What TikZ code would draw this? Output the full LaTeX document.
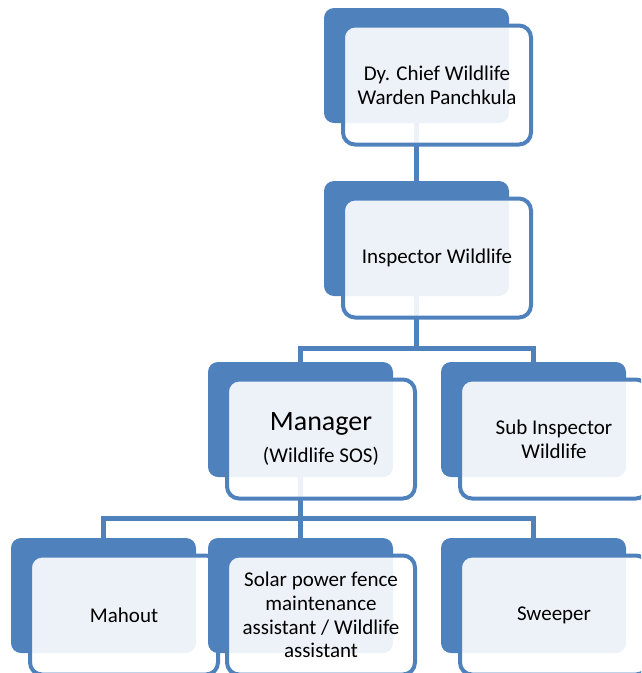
\documentclass[tikz,border=0pt]{standalone}
\usepackage{fontspec}
\setmainfont{Carlito}
\pgfdeclarelayer{background}
\pgfsetlayers{background,main}
\definecolor{acc}{HTML}{4F81BD}
\begin{document}
\begin{tikzpicture}[x=1pt,y=-1pt,
 back/.style={draw=none, fill=acc, rounded corners=10pt, minimum width=185pt, minimum height=115pt, anchor=north west, inner sep=0pt, outer sep=0pt},
 front/.style={draw=acc, line width=4pt, fill=white, fill opacity=0.9, text opacity=1, rounded corners=12pt, minimum width=188pt, minimum height=119pt, anchor=north west, inner sep=0pt, outer sep=0pt, align=center, font=\fontsize{21}{23.6}\selectfont},
 conn/.style={draw=acc, line width=5pt}]
\useasboundingbox (0,0) rectangle (641,673);
\clip (0,0) rectangle (641,673);
\node[back] (b1) at (324,8) {};
\node[front] (f1) at (343,25.5) {Dy. Chief Wildlife\\Warden Panchkula};
\node[back] (b2) at (324,181) {};
\node[front] (f2) at (343,198.5) {Inspector Wildlife};
\node[back] (b3) at (208,362) {};
\node[front] (f3) at (227,379.5) {{\fontsize{28}{32}\selectfont Manager}\\[9pt](Wildlife SOS)};
\node[back] (b4) at (441,362) {};
\node[front] (f4) at (460,379.5) {Sub Inspector\\Wildlife};
\node[back] (b5) at (11,538) {};
\node[front] (f5) at (30,555.5) {Mahout};
\node[back] (b6) at (208,538) {};
\node[front] (f6) at (227,555.5) {Solar power fence\\maintenance\\assistant / Wildlife\\assistant};
\node[back] (b7) at (441,538) {};
\node[front] (f7) at (460,555.5) {Sweeper};
\begin{pgfonlayer}{background}
\draw[conn] (b1.south) -- (b2.north);
\draw[conn] (b2.south) -- (b2.south |- 0,348);
\draw[conn] (b3.north) -- (b3.north |- 0,348) -- (b4.north |- 0,348) -- (b4.north);
\draw[conn] (b3.south) -- (b3.south |- 0,518);
\draw[conn] (b5.north) -- (b5.north |- 0,518) -- (b7.north |- 0,518) -- (b7.north);
\draw[conn] (b6.north) -- (b6.north |- 0,518);
\end{pgfonlayer}
\end{tikzpicture}
\end{document}
